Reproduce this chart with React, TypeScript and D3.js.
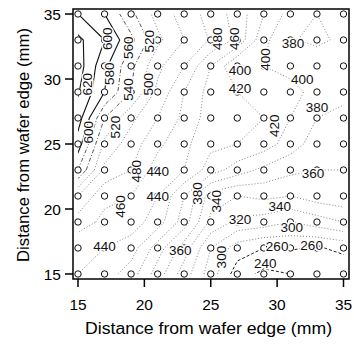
import React, { useMemo } from 'react';
import * as d3 from 'd3';

// measurement grid (mm from wafer edge)
const gridX = [15, 17, 19, 21, 23, 25, 27, 29, 31, 33, 35];
const gridY = [35, 33, 31, 29, 27, 25, 23, 21, 19, 17, 15];

// values per row, top row (y = 35) first
const row35 = [600, 580, 545, 512, 492, 472, 452, 420, 392, 380, 385];
const row33 = [625, 600, 565, 525, 500, 478, 455, 405, 382, 375, 385];
const row31 = [630, 585, 545, 505, 480, 440, 400, 400, 395, 395, 390];
const row29 = [622, 580, 540, 495, 460, 432, 420, 415, 405, 395, 385];
const row27 = [610, 540, 505, 480, 455, 430, 425, 420, 400, 380, 375];
const row25 = [590, 515, 490, 465, 445, 425, 420, 410, 390, 370, 365];
const row23 = [560, 495, 480, 450, 440, 410, 390, 375, 365, 360, 360];
const row21 = [500, 465, 460, 440, 400, 350, 340, 345, 340, 350, 355];
const row19 = [470, 455, 450, 430, 390, 335, 315, 310, 300, 310, 320];
const row17 = [445, 440, 430, 390, 350, 300, 270, 260, 262, 258, 265];
const row15 = [440, 430, 410, 370, 330, 290, 250, 235, 240, 250, 245];
const rows = [row35, row33, row31, row29, row27, row25, row23, row21, row19, row17, row15];

const levels = [240, 260, 280, 300, 320, 340, 360, 380, 400, 420, 440, 460, 480, 500, 520, 540, 560, 580, 600, 620];

// contour labels: level, position (mm), rotation
const labelLevel = [600, 560, 520, 620, 580, 540, 500, 600, 520, 480, 460, 380, 400, 400, 420, 400, 380, 420,
  480, 440, 460, 440, 440, 360, 380, 340, 360, 320, 340, 300, 260, 260, 300, 240];
const labelX = [17.2, 18.8, 20.4, 15.7, 17.4, 18.8, 20.3, 15.8, 17.8, 25.5, 26.8, 31.2, 29.1, 27.2, 27.2, 31.9, 33.0, 29.8,
  19.4, 21.0, 18.2, 21.0, 17.0, 22.7, 24.0, 25.4, 32.7, 27.2, 30.2, 31.1, 30.0, 32.6, 25.8, 29.1];
const labelY = [33.1, 32.4, 32.9, 29.6, 30.4, 29.2, 29.6, 25.9, 26.3, 33.1, 33.1, 32.7, 31.5, 30.65, 29.3, 30.0, 27.8, 26.4,
  22.9, 22.9, 20.2, 21.0, 17.1, 16.8, 21.2, 20.6, 22.7, 19.2, 20.2, 18.6, 17.1, 17.2, 16.3, 15.8];
const labelRot = [-90, -90, -90, -90, -90, -90, -90, -90, -90, -90, -90, 0, -90, 0, 0, 0, 0, -90,
  -90, 0, -90, 0, 0, 0, -90, -90, 0, 0, 0, 0, 0, 0, -90, 0];

const ticks = [15, 20, 25, 30, 35];

const App: React.FC = () => {
  const width = 354;
  const height = 347;
  const x = d3.scaleLinear().domain([15, 35]).range([78, 343.5]);
  const y = d3.scaleLinear().domain([15, 35]).range([274, 14]);
  const frame = { x0: 73, x1: 349, y0: 9, y1: 279 };

  const paths = useMemo(() => {
    const values = rows.flat();
    const gen = d3.contours().size([gridX.length, gridY.length]).thresholds(levels);
    const proj = d3.geoTransform({
      point(cx: number, cy: number) {
        this.stream.point(x(15 + (cx - 0.5) * 2), y(35 - (cy - 0.5) * 2));
      },
    });
    const path = d3.geoPath(proj);
    return gen(values).map(c => ({ value: c.value, d: path(c as any) || '' }));
  }, []);

  const style = (v: number) => {
    if (v >= 580) return { stroke: '#111', dash: 'none', w: 1.1 };
    if (v <= 260) return { stroke: '#222', dash: '3,2', w: 1 };
    if (v >= 540) return { stroke: '#444', dash: '4,2,1,2', w: 0.9 };
    return { stroke: '#777', dash: '1,2', w: 0.9 };
  };

  const font = 'Liberation Sans, Arial, sans-serif';

  return (
    <svg width={width} height={height} style={{ position: 'absolute', left: 0, top: 0 }} fontFamily={font}>
      <rect width={width} height={height} fill="#fff" />
      <defs>
        <clipPath id="plotclip">
          <rect x={x(15)} y={y(35)} width={x(35) - x(15)} height={y(15) - y(35)} />
        </clipPath>
      </defs>
      <g clipPath="url(#plotclip)">
        {paths.map(p => {
          const s = style(p.value);
          return (
            <path key={p.value} d={p.d} fill="none" stroke={s.stroke} strokeWidth={s.w}
              strokeDasharray={s.dash} />
          );
        })}
      </g>
      {gridY.map(gy => gridX.map(gx => (
        <circle key={`${gx}-${gy}`} cx={x(gx)} cy={y(gy)} r={3.2} fill="#fff" stroke="#111" strokeWidth={1} />
      )))}
      {labelLevel.map((lv, i) => (
        <text key={i} x={x(labelX[i])} y={y(labelY[i])} fontSize={13.5} textAnchor="middle" dominantBaseline="central"
          transform={labelRot[i] ? `rotate(${labelRot[i]},${x(labelX[i])},${y(labelY[i])})` : undefined}
          fill="#111" stroke="#fff" strokeWidth={3} paintOrder="stroke">
          {lv}
        </text>
      ))}
      <rect x={frame.x0} y={frame.y0} width={frame.x1 - frame.x0} height={frame.y1 - frame.y0}
        fill="none" stroke="#000" strokeWidth={1.5} />
      {ticks.map(t => (
        <g key={`x${t}`}>
          <line x1={x(t)} x2={x(t)} y1={frame.y1} y2={frame.y1 + 8} stroke="#000" strokeWidth={1.5} />
          <text x={x(t)} y={310} fontSize={15.5} textAnchor="middle">{t}</text>
        </g>
      ))}
      {ticks.map(t => (
        <g key={`y${t}`}>
          <line x1={frame.x0 - 8} x2={frame.x0} y1={y(t)} y2={y(t)} stroke="#000" strokeWidth={1.5} />
          <text x={61} y={y(t)} fontSize={15.5} textAnchor="end" dominantBaseline="central">{t}</text>
        </g>
      ))}
      <text x={208.5} y={334} fontSize={16} textAnchor="middle" textLength={247} lengthAdjust="spacingAndGlyphs">
        Distance from wafer edge (mm)
      </text>
      <text transform={`translate(29,145) rotate(-90)`} fontSize={16} textAnchor="middle"
        textLength={234} lengthAdjust="spacingAndGlyphs">
        Distance from wafer edge (mm)
      </text>
    </svg>
  );
};

export default App;
